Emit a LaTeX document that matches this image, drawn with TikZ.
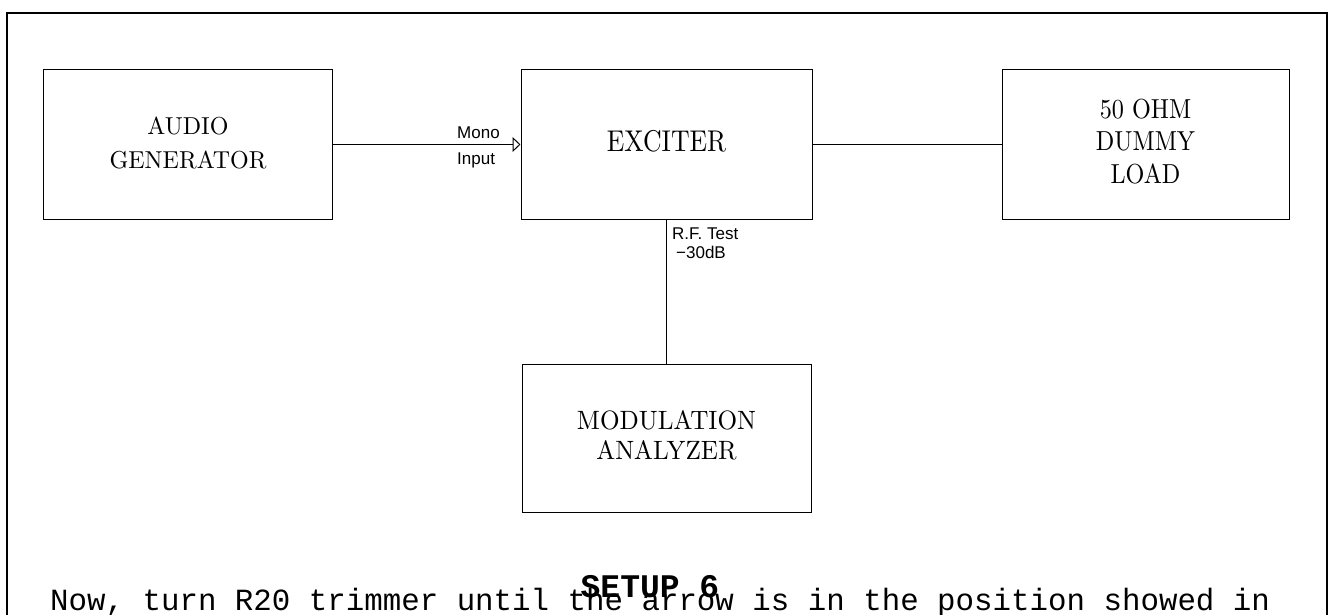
\documentclass[tikz,border=0pt]{standalone}
\usepackage{fontspec}
\usepackage{graphicx}
\newfontfamily\boxfont{lmroman10-regular.otf}
\newfontfamily\labelfont{Liberation Sans}
\newfontfamily\notefont{Liberation Mono}
\usetikzlibrary{arrows.meta}
\newcommand{\boxlabel}[2][0.87]{\scalebox{#1}[1]{\begin{tabular}{@{}c@{}}#2\end{tabular}}}

\begin{document}
\begin{tikzpicture}[x=1pt, y=-1pt,
    unitbox/.style={draw, line width=1pt, minimum width=289pt, minimum height=149pt, inner sep=0pt},
    tag/.style={inner sep=0pt, anchor=base west, font=\labelfont\fontsize{17}{20}\selectfont}]
    \useasboundingbox (0,0) rectangle (1334,615);
    % frame
    \draw[line width=2pt] (7,615) -- (7,13) -- (1327,13) -- (1327,615);

    % blocks
    \node[unitbox, font=\boxfont\fontsize{24.5}{34}\selectfont] (gen) at (188,144.5) {\raisebox{-1.5pt}{\boxlabel[0.98]{AUDIO\\GENERATOR}}};
    \node[unitbox, minimum width=291pt, font=\boxfont\fontsize{30}{34}\selectfont] (exc) at (666.5,144.5) {\boxlabel[0.86]{EXCITER}};
    \node[unitbox, minimum width=287pt, font=\boxfont\fontsize{27.5}{32.5}\selectfont] (load) at (1145.5,144.5) {\raisebox{-3pt}{\boxlabel[0.88]{50 OHM\\DUMMY\\LOAD}}};
    \node[unitbox, minimum height=148pt, font=\boxfont\fontsize{26.5}{30}\selectfont] (mod) at (666.5,438) {\boxlabel[0.95]{MODULATION\\ANALYZER}};

    % connections
    \draw[line width=1pt, -{Triangle[open, length=8pt, width=15pt]}] (gen.east) -- (exc.west);
    \draw[line width=1pt] (exc.east) -- (load.west);
    \draw[line width=1pt] (exc.south) -- (exc.south |- mod.north);

    % port labels
    \node[tag] (mono) at (457,139) {Mono};
    \node[tag] (input) at (457,165) {Input};
    \node[tag] (rf) at (672,239) {R.F. Test};
    \node[tag] (att) at (676,258) {−30dB};

    % caption
    \node[anchor=base, inner sep=0pt, font=\notefont\bfseries\fontsize{33}{33}\selectfont] (setup) at (650,597) {SETUP 6};
    \node[anchor=base west, inner sep=0pt, font=\notefont\fontsize{30.8}{33}\selectfont] (note) at (50,610) {Now, turn R20 trimmer until the arrow is in the position showed in};
\end{tikzpicture}
\end{document}
